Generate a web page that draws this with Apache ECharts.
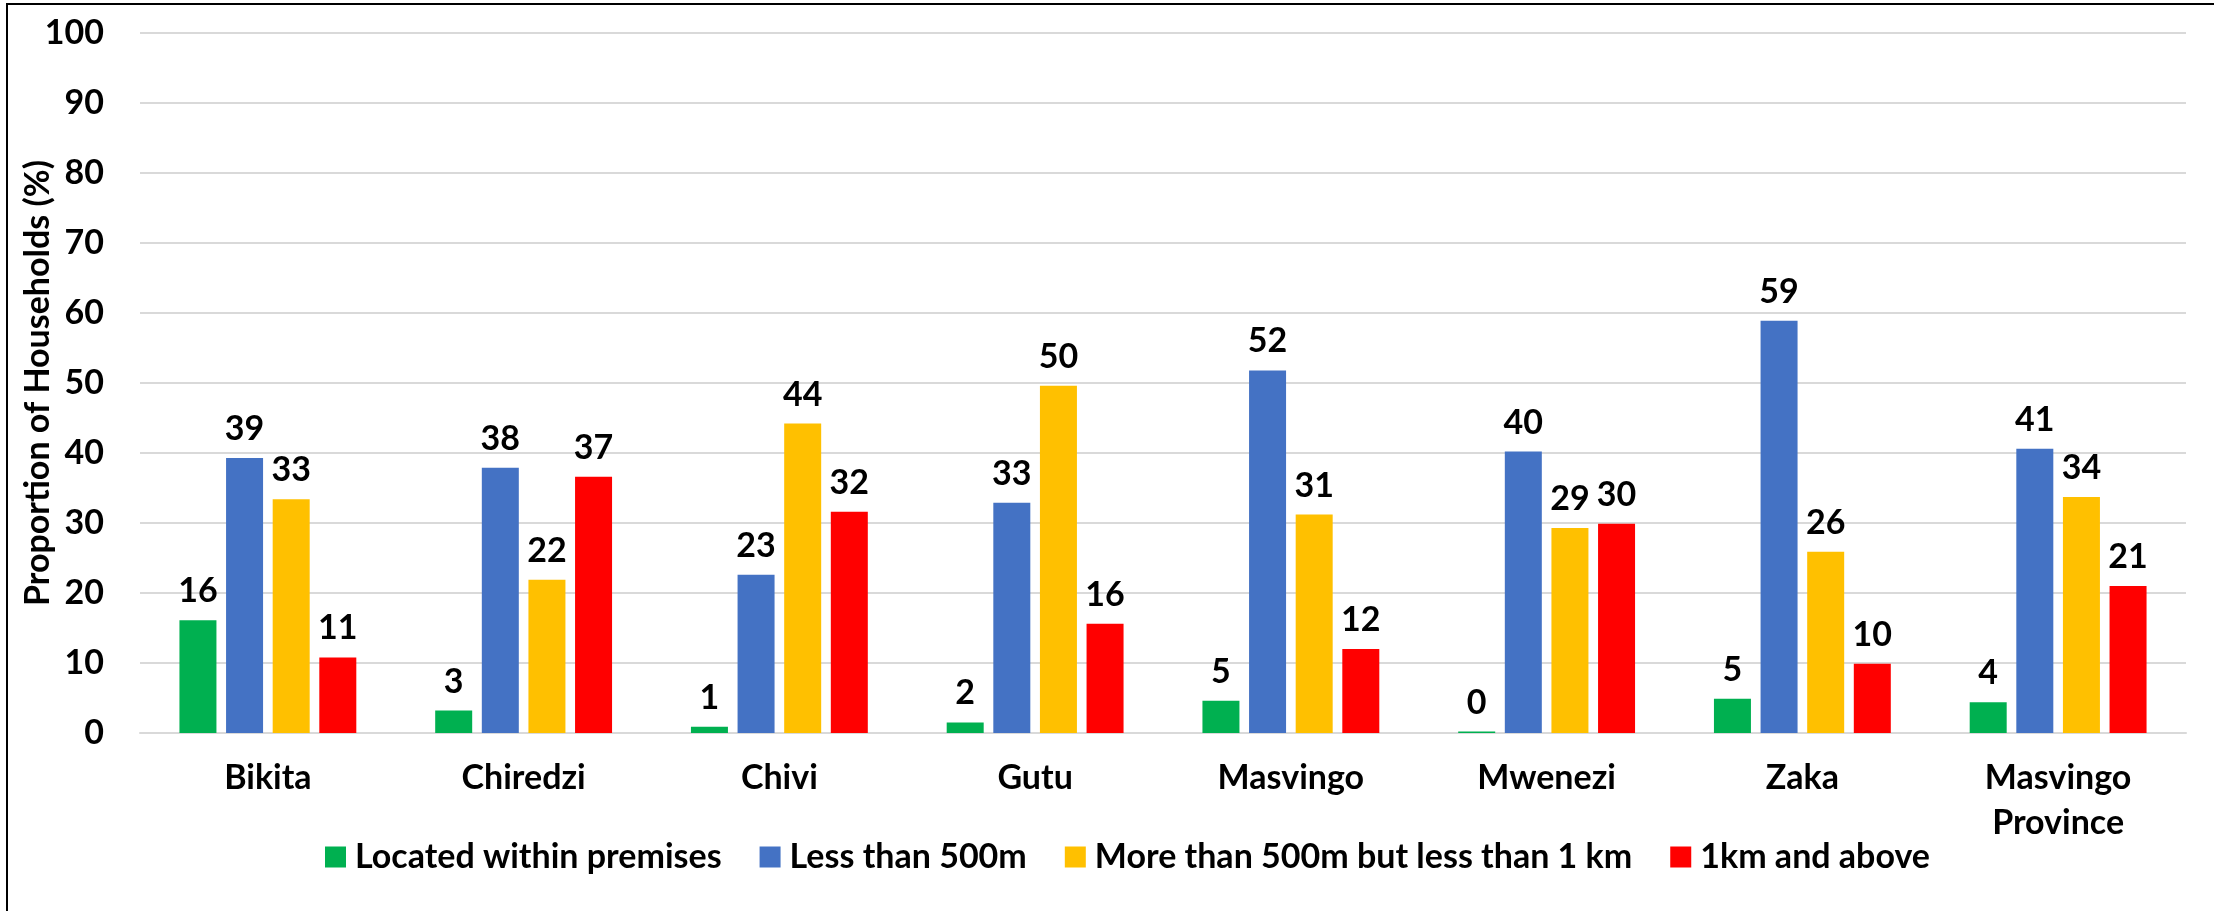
<!DOCTYPE html>
<html>
<head>
<meta charset="utf-8">
<title>Distance to water source by district</title>
<script src="https://cdn.jsdelivr.net/npm/echarts@6/dist/echarts.min.js"></script>
<style>
  html, body { margin: 0; padding: 0; background: #ffffff; }
  #chart { width: 2214px; height: 911px; }
</style>
</head>
<body>
<div id="chart"></div>
<script>
// Districts of Masvingo Province plus the provincial total
const categories = ['Bikita', 'Chiredzi', 'Chivi', 'Gutu', 'Masvingo', 'Mwenezi', 'Zaka', 'Masvingo Province'];

// Share of households (%) by distance to the main water source
const withinPremises = [16.1, 3.2, 0.9, 1.5, 4.6, 0.2, 4.9, 4.4];
const lessThan500m   = [39.3, 37.9, 22.6, 32.9, 51.8, 40.2, 58.9, 40.6];
const from500mTo1km  = [33.4, 21.9, 44.2, 49.6, 31.2, 29.3, 25.9, 33.7];
const oneKmAndAbove  = [10.8, 36.6, 31.6, 15.6, 12.0, 29.9, 9.9, 21.0];

const seriesNames = [
  'Located within premises',
  'Less than 500m',
  'More than 500m but less than 1 km',
  '1km and above'
];

const yTicks = { min: 0, max: 100, interval: 10 };

const FONT = 'Lato';
const FONT_SIZE = 34;
const colors = ['#00B050', '#4472C4', '#FFC000', '#FF0000'];

const chart = echarts.init(document.getElementById('chart'), null, { renderer: 'canvas' });

function barSeries(name, data, color) {
  return {
    name: name,
    type: 'bar',
    data: data,
    barWidth: 37,
    barGap: '26%',
    itemStyle: { color: color },
    label: {
      show: true,
      position: 'top',
      distance: 12,
      color: '#000000',
      fontFamily: FONT,
      fontWeight: 'bold',
      fontSize: FONT_SIZE,
      formatter: p => String(Math.round(p.value))
    }
  };
}

chart.setOption({
  animation: false,
  backgroundColor: '#ffffff',
  color: colors,
  textStyle: { fontFamily: FONT },
  grid: { left: 140, right: 28, top: 33, bottom: 178, containLabel: false },
  legend: {
    left: 320,
    top: 835,
    itemWidth: 21,
    itemHeight: 21,
    itemGap: 38,
    icon: 'rect',
    textStyle: {
      fontFamily: FONT,
      fontWeight: 'bold',
      fontSize: FONT_SIZE,
      color: '#000000',
      padding: [0, 0, 0, 4]
    },
    data: seriesNames
  },
  xAxis: {
    type: 'category',
    data: categories,
    axisTick: { show: false },
    axisLine: { lineStyle: { color: '#d9d9d9', width: 2 } },
    axisLabel: {
      color: '#000000',
      fontFamily: FONT,
      fontWeight: 'bold',
      fontSize: FONT_SIZE,
      lineHeight: 45,
      margin: 23,
      interval: 0,
      formatter: v => v.replace(' ', '\n')
    }
  },
  yAxis: {
    type: 'value',
    min: yTicks.min,
    max: yTicks.max,
    interval: yTicks.interval,
    name: 'Proportion of Households (%)',
    nameLocation: 'middle',
    nameGap: 85,
    nameMoveOverlap: false,
    nameTextStyle: {
      color: '#000000',
      fontFamily: FONT,
      fontWeight: 'bold',
      fontSize: FONT_SIZE
    },
    axisLine: { show: false },
    axisTick: { show: false },
    splitLine: { lineStyle: { color: '#d9d9d9', width: 2 } },
    axisLabel: {
      color: '#000000',
      fontFamily: FONT,
      fontWeight: 'bold',
      fontSize: FONT_SIZE,
      margin: 36
    }
  },
  graphic: [
    // frame lines along the top and left edges
    { type: 'line', shape: { x1: 6, y1: 4, x2: 2214, y2: 4 }, style: { stroke: '#000000', lineWidth: 2 } },
    { type: 'line', shape: { x1: 7, y1: 3, x2: 7, y2: 911 }, style: { stroke: '#000000', lineWidth: 2 } }
  ],
  series: [
    barSeries(seriesNames[0], withinPremises, colors[0]),
    barSeries(seriesNames[1], lessThan500m, colors[1]),
    barSeries(seriesNames[2], from500mTo1km, colors[2]),
    barSeries(seriesNames[3], oneKmAndAbove, colors[3])
  ]
});
</script>
</body>
</html>
